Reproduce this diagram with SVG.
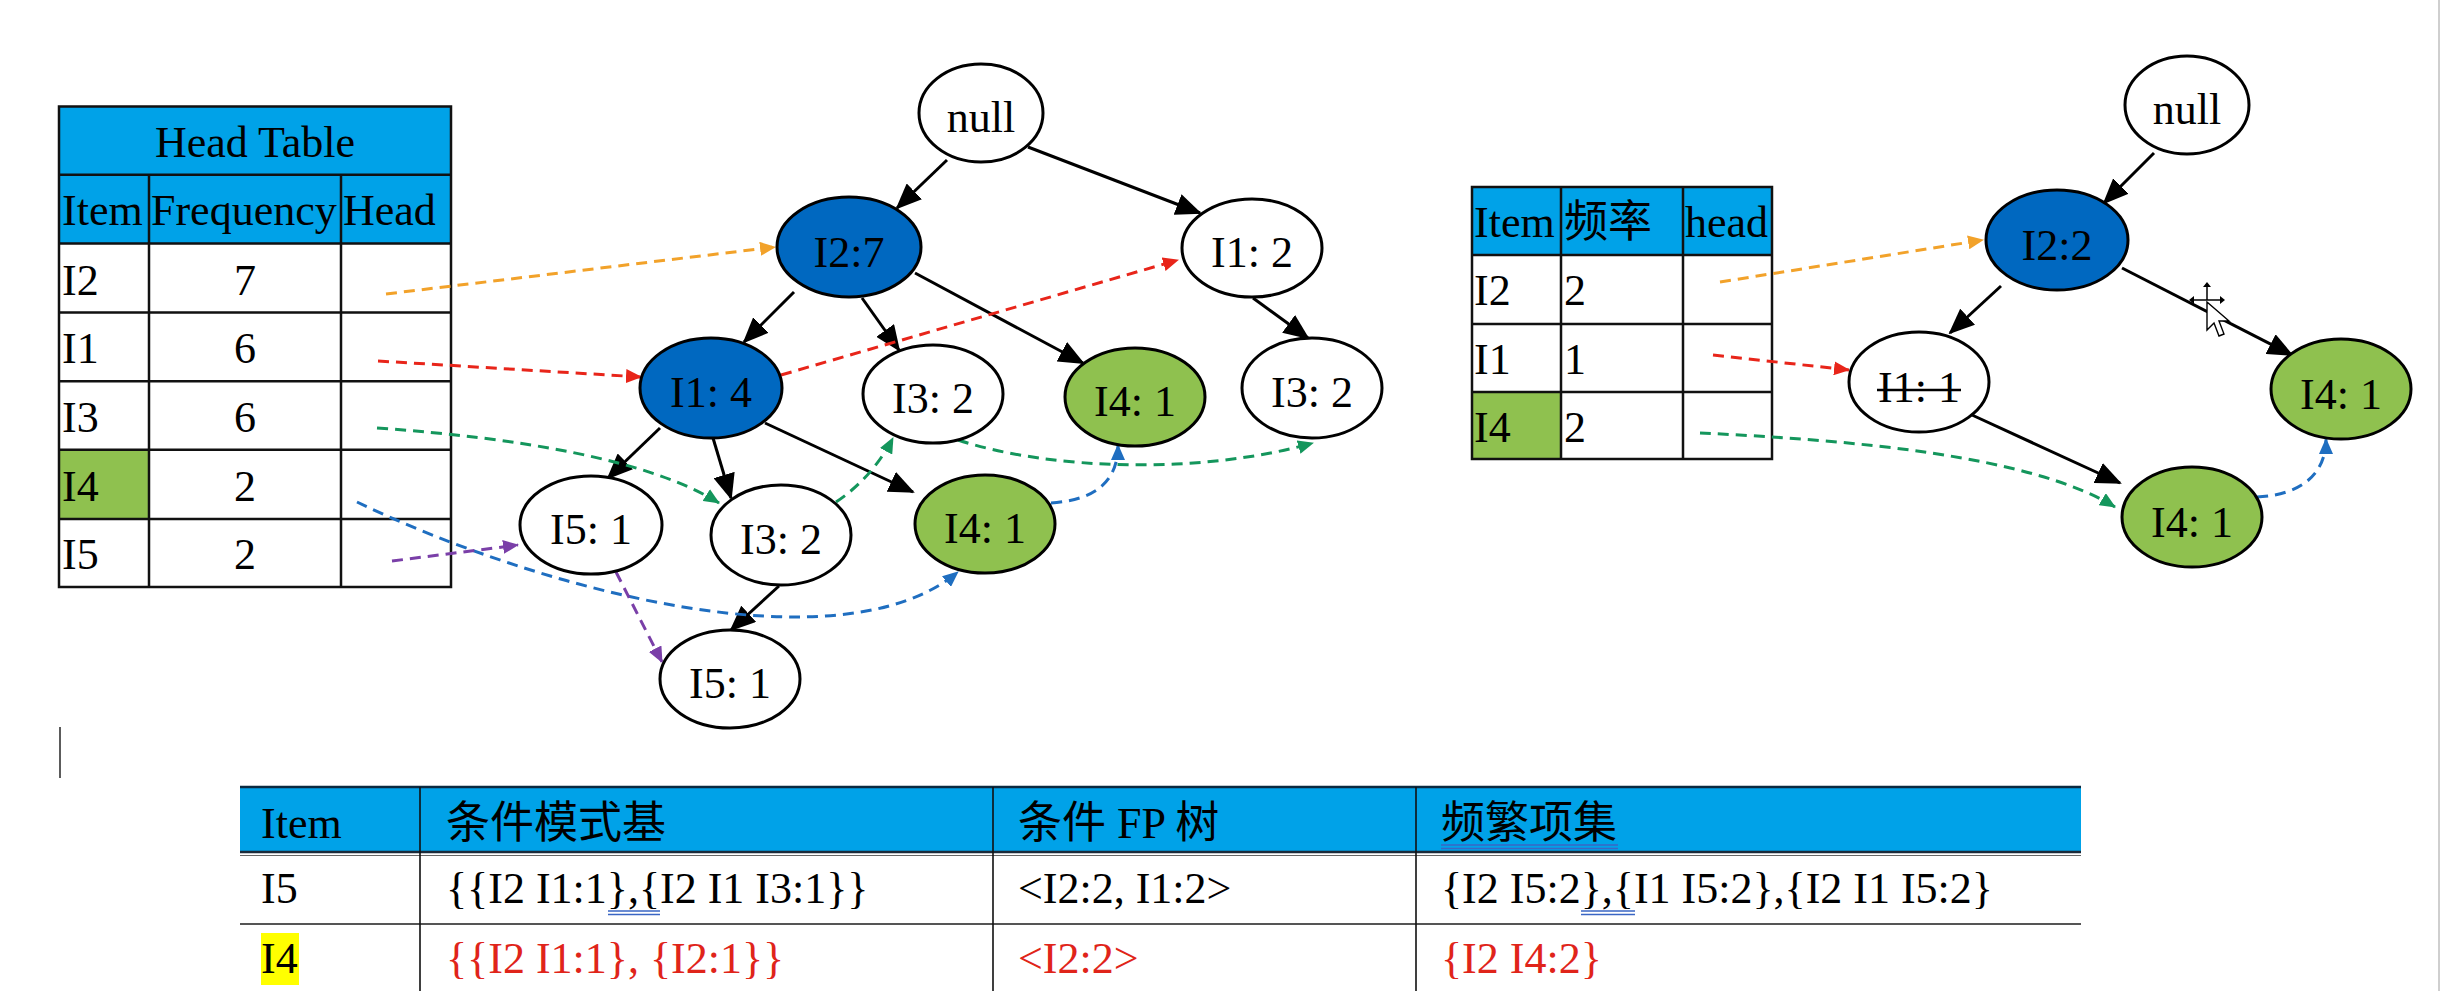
<svg xmlns="http://www.w3.org/2000/svg" width="2444" height="991" viewBox="0 0 2444 991">
<style>
.t{font-family:"Liberation Serif","Times New Roman","Noto Sans CJK SC",serif;font-size:44px;fill:#000}
.c{text-anchor:middle}
.red{fill:#E0241A}
.n{stroke:#000;stroke-width:3}
.w{fill:#fff}.b{fill:#0068C0}.g{fill:#8FC14F}
.grid{stroke:#111;stroke-width:2.5;fill:none}
.e{stroke:#000;stroke-width:3;fill:none}
.d{stroke-width:3;fill:none;stroke-dasharray:11 7}
.ul{stroke:#3A66C4;stroke-width:1.4}
</style>
<defs>
<marker id="ah" viewBox="0 0 26 22" refX="24" refY="11" markerWidth="26" markerHeight="22" markerUnits="userSpaceOnUse" orient="auto"><path d="M0,0 L26,11 L0,22 z" fill="#000"/></marker>
<marker id="ao" viewBox="0 0 16 14" refX="15" refY="7" markerWidth="16" markerHeight="14" markerUnits="userSpaceOnUse" orient="auto"><path d="M0,0 L16,7 L0,14 z" fill="#F2A22A"/></marker>
<marker id="ar" viewBox="0 0 16 14" refX="15" refY="7" markerWidth="16" markerHeight="14" markerUnits="userSpaceOnUse" orient="auto"><path d="M0,0 L16,7 L0,14 z" fill="#E8251A"/></marker>
<marker id="ag" viewBox="0 0 16 14" refX="15" refY="7" markerWidth="16" markerHeight="14" markerUnits="userSpaceOnUse" orient="auto"><path d="M0,0 L16,7 L0,14 z" fill="#14965C"/></marker>
<marker id="ab" viewBox="0 0 16 14" refX="15" refY="7" markerWidth="16" markerHeight="14" markerUnits="userSpaceOnUse" orient="auto"><path d="M0,0 L16,7 L0,14 z" fill="#1F6EC0"/></marker>
<marker id="ap" viewBox="0 0 16 14" refX="15" refY="7" markerWidth="16" markerHeight="14" markerUnits="userSpaceOnUse" orient="auto"><path d="M0,0 L16,7 L0,14 z" fill="#7A3FA8"/></marker>
</defs>
<rect width="2444" height="991" fill="#fff"/>
<line x1="2439" y1="0" x2="2439" y2="991" stroke="#cfcfcf" stroke-width="2"/>
<line x1="60" y1="727" x2="60" y2="778" stroke="#333" stroke-width="1.6"/>

<!-- Left head table -->
<g id="head-table">
<rect x="59" y="106.5" width="392" height="137" fill="#00A2E8"/>
<rect x="59" y="449.8" width="90" height="69.2" fill="#8FC14F"/>
<path class="grid" d="M59,106.5H451V587H59Z M59,174.7H451 M59,243.5H451 M59,312.4H451 M59,381.3H451 M59,449.8H451 M59,519H451 M149,174.7V587 M341,174.7V587"/>
<text class="t c" x="255" y="157">Head Table</text>
<text class="t" x="62" y="225">Item</text>
<text class="t" x="151" y="225">Frequency</text>
<text class="t" x="343" y="225">Head</text>
<text class="t" x="62" y="295">I2</text><text class="t c" x="245" y="295">7</text>
<text class="t" x="62" y="363">I1</text><text class="t c" x="245" y="363">6</text>
<text class="t" x="62" y="432">I3</text><text class="t c" x="245" y="432">6</text>
<text class="t" x="62" y="501">I4</text><text class="t c" x="245" y="501">2</text>
<text class="t" x="62" y="569">I5</text><text class="t c" x="245" y="569">2</text>
</g>

<!-- Right head table -->
<g id="head-table-2">
<rect x="1472" y="187" width="300" height="68" fill="#00A2E8"/>
<rect x="1472" y="392" width="89" height="67" fill="#8FC14F"/>
<path class="grid" d="M1472,187H1772V459H1472Z M1472,255H1772 M1472,324H1772 M1472,392H1772 M1561,187V459 M1683,187V459"/>
<text class="t" x="1474" y="237">Item</text>
<text class="t" x="1564" y="237">频率</text>
<text class="t" x="1685" y="237">head</text>
<text class="t" x="1474" y="305">I2</text><text class="t" x="1564" y="305">2</text>
<text class="t" x="1474" y="374">I1</text><text class="t" x="1564" y="374">1</text>
<text class="t" x="1474" y="442">I4</text><text class="t" x="1564" y="442">2</text>
</g>

<!-- Connectors -->
<g id="connectors">
<line class="e" x1="947" y1="160" x2="897" y2="208" marker-end="url(#ah)"/>
<line class="e" x1="1028" y1="147" x2="1200" y2="213" marker-end="url(#ah)"/>
<line class="e" x1="794" y1="292" x2="744" y2="342" marker-end="url(#ah)"/>
<line class="e" x1="862" y1="298" x2="899" y2="350" marker-end="url(#ah)"/>
<line class="e" x1="915" y1="273" x2="1083" y2="363" marker-end="url(#ah)"/>
<line class="e" x1="660" y1="428" x2="608" y2="478" marker-end="url(#ah)"/>
<line class="e" x1="713" y1="438" x2="731" y2="498" marker-end="url(#ah)"/>
<line class="e" x1="765" y1="423" x2="913" y2="492" marker-end="url(#ah)"/>
<line class="e" x1="779" y1="586" x2="731" y2="630" marker-end="url(#ah)"/>
<line class="e" x1="1253" y1="298" x2="1308" y2="338" marker-end="url(#ah)"/>

<line class="e" x1="2154" y1="153" x2="2104" y2="203" marker-end="url(#ah)"/>
<line class="e" x1="2001" y1="286" x2="1950" y2="333" marker-end="url(#ah)"/>
<line class="e" x1="2122" y1="268" x2="2292" y2="355" marker-end="url(#ah)"/>
<line class="e" x1="1972" y1="415" x2="2120" y2="483" marker-end="url(#ah)"/>

<path class="d" stroke="#F2A22A" d="M386,294 L775,247" marker-end="url(#ao)"/>
<path class="d" stroke="#E8251A" d="M378,361 L641,377" marker-end="url(#ar)"/>
<path class="d" stroke="#E8251A" d="M781,375 L1178,260" marker-end="url(#ar)"/>
<path class="d" stroke="#14965C" d="M377,428 C520,438 650,460 719,503" marker-end="url(#ag)"/>
<path class="d" stroke="#14965C" d="M836,502 Q872,478 893,438" marker-end="url(#ag)"/>
<path class="d" stroke="#14965C" d="M958,440 C1050,470 1200,475 1313,443" marker-end="url(#ag)"/>
<path class="d" stroke="#1F6EC0" d="M357,502 C540,590 840,670 958,572" marker-end="url(#ab)"/>
<path class="d" stroke="#1F6EC0" d="M1051,503 C1095,500 1118,482 1118,445" marker-end="url(#ab)"/>
<path class="d" stroke="#7A3FA8" d="M392,561 L518,545" marker-end="url(#ap)"/>
<path class="d" stroke="#7A3FA8" d="M616,572 L662,662" marker-end="url(#ap)"/>

<path class="d" stroke="#F2A22A" d="M1720,282 L1983,240" marker-end="url(#ao)"/>
<path class="d" stroke="#E8251A" d="M1713,355 L1849,370" marker-end="url(#ar)"/>
<path class="d" stroke="#14965C" d="M1700,433 C1850,440 2030,455 2115,507" marker-end="url(#ag)"/>
<path class="d" stroke="#1F6EC0" d="M2257,497 C2300,495 2326,475 2326,439" marker-end="url(#ab)"/>
</g>

<!-- Left tree nodes -->
<g id="n-null"><ellipse class="n w" cx="981" cy="113" rx="62" ry="49"/><text class="t c" x="981" y="132">null</text></g>
<g id="n-I2-7"><ellipse class="n b" cx="849" cy="247" rx="72" ry="50"/><text class="t c" x="849" y="267">I2:7</text></g>
<g id="n-I1-2"><ellipse class="n w" cx="1252" cy="248" rx="70" ry="49"/><text class="t c" x="1252" y="267">I1: 2</text></g>
<g id="n-I1-4"><ellipse class="n b" cx="711" cy="388" rx="71" ry="50"/><text class="t c" x="711" y="407">I1: 4</text></g>
<g id="n-I3-2a"><ellipse class="n w" cx="933" cy="394" rx="70" ry="49"/><text class="t c" x="933" y="413">I3: 2</text></g>
<g id="n-I4-1a"><ellipse class="n g" cx="1135" cy="397" rx="70" ry="49"/><text class="t c" x="1135" y="416">I4: 1</text></g>
<g id="n-I3-2r"><ellipse class="n w" cx="1312" cy="388" rx="70" ry="50"/><text class="t c" x="1312" y="407">I3: 2</text></g>
<g id="n-I5-1a"><ellipse class="n w" cx="591" cy="525" rx="71" ry="49"/><text class="t c" x="591" y="544">I5: 1</text></g>
<g id="n-I3-2b"><ellipse class="n w" cx="781" cy="535" rx="70" ry="50"/><text class="t c" x="781" y="554">I3: 2</text></g>
<g id="n-I4-1b"><ellipse class="n g" cx="985" cy="524" rx="70" ry="49"/><text class="t c" x="985" y="543">I4: 1</text></g>
<g id="n-I5-1b"><ellipse class="n w" cx="730" cy="679" rx="70" ry="49"/><text class="t c" x="730" y="698">I5: 1</text></g>

<!-- Right tree nodes -->
<g id="r-null"><ellipse class="n w" cx="2187" cy="105" rx="62" ry="49"/><text class="t c" x="2187" y="124">null</text></g>
<g id="r-I2-2"><ellipse class="n b" cx="2057" cy="240" rx="71" ry="50"/><text class="t c" x="2057" y="260">I2:2</text></g>
<g id="r-I1-1"><ellipse class="n w" cx="1919" cy="382" rx="70" ry="50"/><text class="t c" x="1919" y="402">I1: 1</text><line x1="1877" y1="390" x2="1961" y2="390" stroke="#000" stroke-width="2.5"/></g>
<g id="r-I4-1c"><ellipse class="n g" cx="2341" cy="389" rx="70" ry="50"/><text class="t c" x="2341" y="409">I4: 1</text></g>
<g id="r-I4-1d"><ellipse class="n g" cx="2192" cy="517" rx="70" ry="50"/><text class="t c" x="2192" y="537">I4: 1</text></g>

<!-- mouse cursor -->
<g id="cursor">
<path d="M2191,300H2223 M2207,284V300" stroke="#000" stroke-width="1.5"/>
<path d="M2189,300l5,-4v8z M2225,300l-5,-4v8z M2207,282l-4,5h8z" fill="#000"/>
<path d="M2207,302 L2207,330 L2214,323 L2219,336 L2224,334 L2219,321 L2229,321 Z" fill="#fff" stroke="#000" stroke-width="1.4"/>
</g>

<!-- Bottom table -->
<g id="result-table">
<rect x="240" y="787" width="1841" height="65" fill="#00A2E8"/>
<rect x="261" y="933" width="38" height="52" fill="#FFFF00"/>
<line x1="240" y1="787" x2="2081" y2="787" stroke="#0b2a40" stroke-width="2.5"/>
<line x1="240" y1="852" x2="2081" y2="852" stroke="#1a2a3a" stroke-width="2.5"/>
<line x1="240" y1="855.5" x2="2081" y2="855.5" stroke="#666" stroke-width="1.2"/>
<line x1="240" y1="924" x2="2081" y2="924" stroke="#555" stroke-width="2.2"/>
<path d="M420,787V991 M993,787V991 M1416,787V991" stroke="#111" stroke-width="1.6"/>
<text class="t" x="261" y="838">Item</text>
<text class="t" x="446" y="838">条件模式基</text>
<text class="t" x="1018" y="838">条件 FP 树</text>
<text class="t" x="1441" y="838">频繁项集</text>
<path class="ul" d="M1441,845H1618 M1441,848.5H1618"/>
<text class="t" x="261" y="903">I5</text>
<text class="t" x="446" y="903">{{I2 I1:1},{I2 I1 I3:1}}</text>
<path class="ul" d="M608,911H660 M608,914.5H660"/>
<text class="t" x="1018" y="903">&lt;I2:2, I1:2&gt;</text>
<text class="t" x="1441" y="903">{I2 I5:2},{I1 I5:2},{I2 I1 I5:2}</text>
<path class="ul" d="M1581,911H1635 M1581,914.5H1635"/>
<text class="t" x="261" y="973">I4</text>
<text class="t red" x="446" y="973">{{I2 I1:1}, {I2:1}}</text>
<text class="t red" x="1018" y="973">&lt;I2:2&gt;</text>
<text class="t red" x="1441" y="973">{I2 I4:2}</text>
</g>
</svg>
